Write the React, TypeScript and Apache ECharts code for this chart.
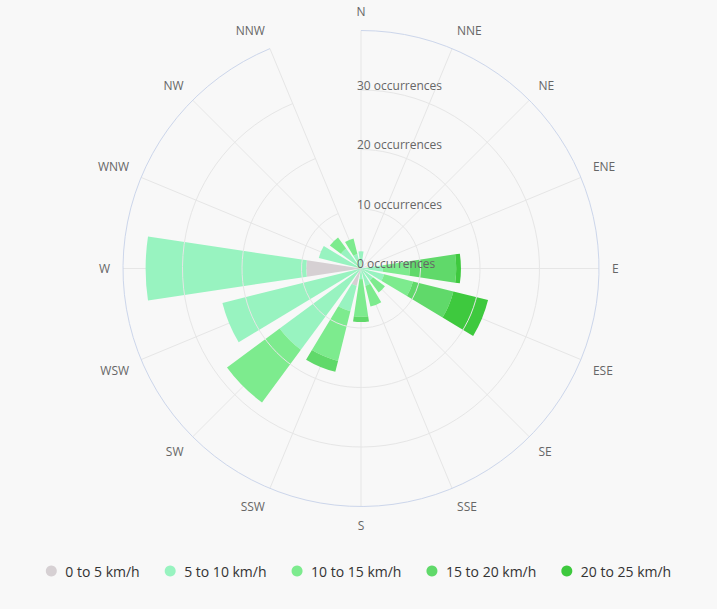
import React, { useEffect, useRef } from "react";
import * as echarts from "echarts";

const directions = ["N", "NNE", "NE", "ENE", "E", "ESE", "SE", "SSE", "S", "SSW", "SW", "WSW", "W", "WNW", "NW", "NNW"];
const seriesNames = ["0 to 5 km/h", "5 to 10 km/h", "10 to 15 km/h", "15 to 20 km/h", "20 to 25 km/h"];
const seriesColors = ["#d6d0d3", "#98f3c0", "#7deb8e", "#60d96a", "#3ec93e"];

const speed0to5 = [0, 0, 0, 0, 0, 0, 0, 0, 0, 3, 0, 0, 9.2, 0, 0, 0];
const speed5to10 = [2.9, 0, 0, 0, 3.7, 4, 2.5, 3, 1.8, 4.4, 17, 24, 27, 7.3, 4.2, 2.5];
const speed10to15 = [0, 0, 0, 0, 4.5, 5, 2.5, 3.6, 6.3, 8.6, 11, 0, 0, 0, 2.3, 2.7];
const speed15to20 = [0, 0, 0, 0, 7.8, 7, 0, 0, 0.9, 1.9, 0, 0, 0, 0, 0, 0];
const speed20to25 = [0, 0, 0, 0, 0.8, 6, 0, 0, 0, 0, 0, 0, 0, 0, 0, 0];
const seriesValues = [speed0to5, speed5to10, speed10to15, speed15to20, speed20to25];

const radiusMax = 40;
const radiusInterval = 10;

export default function App() {
  const ref = useRef<HTMLDivElement>(null);
  useEffect(() => {
    document.body.style.margin = "0";
    const chart = echarts.init(ref.current!, null, { renderer: "svg" });
    const font = "'Open Sans', 'Noto Sans', sans-serif";
    chart.setOption({
      animation: false,
      backgroundColor: "#f8f8f8",
      textStyle: { fontFamily: font },
      color: seriesColors,
      legend: {
        bottom: 26,
        left: "center",
        icon: "circle",
        itemWidth: 18,
        itemHeight: 11,
        itemGap: 25,
        textStyle: { fontSize: 14, color: "#333", fontWeight: 500, fontFamily: font },
        data: seriesNames,
      },
      polar: { center: [361, 268.5], radius: 238 },
      angleAxis: {
        type: "category",
        data: directions,
        boundaryGap: false,
        startAngle: 90,
        clockwise: true,
        axisLine: { show: false },
        axisTick: { show: false },
        axisLabel: { color: "#666666", fontSize: 12, margin: 13, fontFamily: font },
        splitLine: { show: true, lineStyle: { color: "#e6e6e6", width: 1 } },
        z: 1,
      },
      radiusAxis: {
        type: "value",
        min: 0,
        max: radiusMax,
        interval: radiusInterval,
        axisLine: { show: false },
        axisTick: { show: false },
        axisLabel: {
          formatter: "{value} occurrences",
          color: "#666",
          fontSize: 12,
          margin: 4,
          align: "left",
          verticalAlign: "bottom",
          lineHeight: 10,
          showMaxLabel: false,
          fontFamily: font,
        },
        splitLine: {
          show: true,
          lineStyle: { color: ["#e6e6e6", "#e6e6e6", "#e6e6e6", "#e6e6e6", "#ccd6eb"], width: 1 },
        },
        z: 10,
      },
      series: seriesNames.map((name, i) => ({
        type: "bar",
        name,
        coordinateSystem: "polar",
        stack: "wind",
        data: seriesValues[i],
        barCategoryGap: "24%",
        itemStyle: { color: seriesColors[i] },
        z: 2,
      })),
    });
    return () => chart.dispose();
  }, []);
  return <div ref={ref} style={{ width: 717, height: 609 }} />;
}
